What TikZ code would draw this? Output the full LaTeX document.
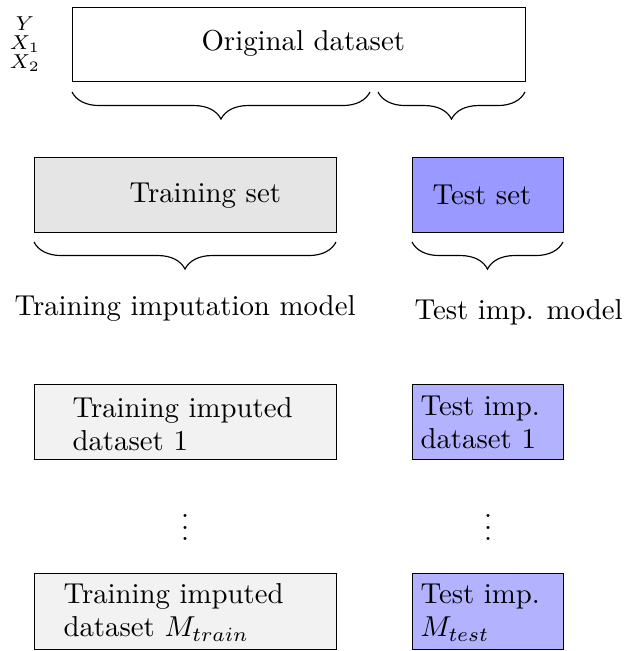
\documentclass[tikz,border=0pt]{standalone}
\usetikzlibrary{decorations.pathreplacing}
\newcommand{\pxu}{0.34722pt}
\begin{document}
\begin{tikzpicture}[
  x=0.34722pt, y=-0.34722pt,
  databox/.style={draw=black, line width=0.4pt, anchor=north west, inner sep=0pt},
  wide/.style={minimum width=302*\pxu},
  narrow/.style={minimum width=151*\pxu},
  txt/.style={anchor=base west, inner sep=0pt, font=\fontsize{10}{11.5}\selectfont},
  multitxt/.style={anchor=north west, inner sep=0pt, align=left, font=\fontsize{10}{11.5}\selectfont},
  splitbrace/.style={decorate, decoration={brace, mirror, amplitude=9.4pt}, line width=0.4pt},
]
\useasboundingbox (0,0) rectangle (624,651);

% original data with its variables
\node[databox, minimum width=453*\pxu, minimum height=74*\pxu] (orig) at (72,7) {};
\node[txt] (origtxt) at (201,51) {Original dataset};
\node[inner sep=0pt, align=center, font=\fontsize{7}{6.7}\selectfont] (vars) at (25,44) {$Y$\\$X_1$\\$X_2$};

% split into training and test part
\draw[splitbrace] (72,92) -- (370,92);
\draw[splitbrace] (378,92) -- (525,92);

% training and test sets
\node[databox, wide, minimum height=75*\pxu, fill=gray!20] (train) at (34,157) {};
\node[txt] (traintxt) at (129,203) {Training set};
\node[databox, narrow, minimum height=75*\pxu, fill=blue!40] (test) at (412,157) {};
\node[txt] (testtxt) at (432,205) {Test set};

% imputation models
\draw[splitbrace] (34,242) -- (336,242);
\draw[splitbrace] (412,242) -- (563,242);
\node[txt] (trainmodel) at (14,315) {Training imputation model};
\node[txt] (testmodel) at (414,319) {Test imp. model};

% imputed datasets
\node[databox, wide, minimum height=75*\pxu, fill=gray!10] (trainimp1) at (34,384) {};
\node[multitxt] (trainimp1txt) at (72,394) {\strut Training imputed\\dataset 1};
\node[databox, narrow, minimum height=75*\pxu, fill=blue!30] (testimp1) at (412,384) {};
\node[multitxt] (testimp1txt) at (420,392) {\strut Test imp.\\dataset 1};

\node[font=\fontsize{10}{12}\selectfont] (traindots) at (185,519) {$\vdots$};
\node[font=\fontsize{10}{12}\selectfont] (testdots) at (488,519) {$\vdots$};

\node[databox, wide, minimum height=76*\pxu, fill=gray!10] (trainimpM) at (34,573) {};
\node[multitxt] (trainimpMtxt) at (63,580) {\strut Training imputed\\dataset $M_{train}$};
\node[databox, narrow, minimum height=76*\pxu, fill=blue!30] (testimpM) at (412,573) {};
\node[multitxt] (testimpMtxt) at (420,580) {\strut Test imp.\\$M_{test}$};
\end{tikzpicture}
\end{document}
